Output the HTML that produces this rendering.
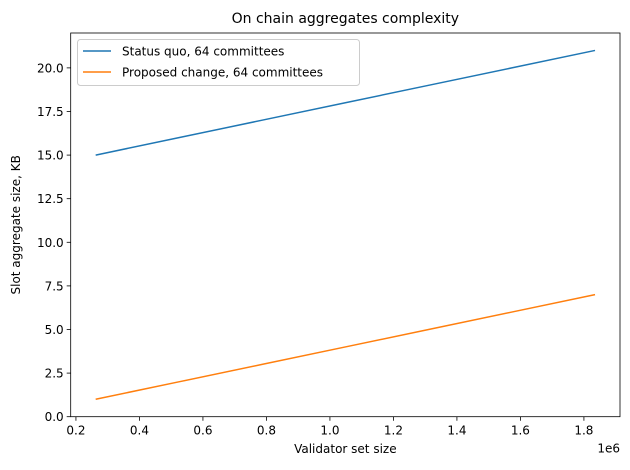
<!DOCTYPE html>
<html><head><meta charset="utf-8"><style>
html,body{margin:0;padding:0;background:#fff;}
svg{display:block;font-family:"DejaVu Sans","Liberation Sans",sans-serif;}
</style></head><body>
<svg id="chart" width="630" height="470" viewBox="0 0 630 470" xmlns="http://www.w3.org/2000/svg"></svg>
<script>
const validatorSizes = [262144, 524288, 786432, 1048576, 1310720, 1572864, 1835008];
const statusQuo = [15, 16, 17, 18, 19, 20, 21];
const proposed = [1, 2, 3, 4, 5, 6, 7];
const xTicks = [200000, 400000, 600000, 800000, 1000000, 1200000, 1400000, 1600000, 1800000];
const xTickLabels = ["0.2","0.4","0.6","0.8","1.0","1.2","1.4","1.6","1.8"];
const yTicks = [0, 2.5, 5, 7.5, 10, 12.5, 15, 17.5, 20];
const yTickLabels = ["0.0","2.5","5.0","7.5","10.0","12.5","15.0","17.5","20.0"];

const NS = "http://www.w3.org/2000/svg";
const svg = document.getElementById("chart");
const L = 70.7, R = 620, T = 33, B = 416.7;
const xs = validatorSizes;
const xmin0 = Math.min(...xs), xmax0 = Math.max(...xs), xm = (xmax0 - xmin0) * 0.05;
const xmin = xmin0 - xm, xmax = xmax0 + xm;
const allY = statusQuo.concat(proposed);
const ymin0 = Math.min(...allY), ymax0 = Math.max(...allY), ym = (ymax0 - ymin0) * 0.05;
const ymin = 0, ymax = ymax0 + ym;
const sx = v => L + (v - xmin) / (xmax - xmin) * (R - L);
const sy = v => B - (v - ymin) / (ymax - ymin) * (B - T);

function mk(tag, attrs, parent) {
  const e = document.createElementNS(NS, tag);
  for (const k in attrs) e.setAttribute(k, attrs[k]);
  (parent || svg).appendChild(e);
  return e;
}

const title = mk("text", {x: (L+R)/2, y: 23, "text-anchor": "middle", "font-size": 14, fill: "#000"});


title.textContent = "On chain aggregates complexity";

xTicks.forEach((t, i) => {
  const x = sx(t);
  const ln = mk("line", {x1: x, x2: x, y1: B, y2: B + 4, stroke: "#000", "stroke-width": 0.8});
  
  
  const tx = mk("text", {x: x, y: B + 18, "text-anchor": "middle", "font-size": 12, fill: "#000"});
  
  
  tx.textContent = xTickLabels[i];
});
yTicks.forEach((t, i) => {
  const y = sy(t);
  const ln = mk("line", {x1: L - 4, x2: L, y1: y, y2: y, stroke: "#000", "stroke-width": 0.8});
  
  
  const tx = mk("text", {x: L - 7, y: y + 4.5, "text-anchor": "end", "font-size": 12, fill: "#000"});
  
  
  tx.textContent = yTickLabels[i];
});

const offs = mk("text", {x: R, y: B + 36, "text-anchor": "end", "font-size": 12, fill: "#000"});


offs.textContent = "1e6";

const xl = mk("text", {x: (L+R)/2, y: 453, "text-anchor": "middle", "font-size": 12, fill: "#000"});


xl.textContent = "Validator set size";

const yl = mk("text", {x: 0, y: 0, "text-anchor": "middle", "font-size": 12, fill: "#000", transform: `translate(20,${(T+B)/2}) rotate(-90)`});


yl.textContent = "Slot aggregate size, KB";

function series(vals, color, name) {
  const d = vals.map((v, i) => (i ? "L" : "M") + sx(xs[i]).toFixed(2) + "," + sy(v).toFixed(2)).join(" ");
  const p = mk("path", {d: d, fill: "none", stroke: color, "stroke-width": 1.5});
  
  
}
series(statusQuo, "#1f77b4", "status-quo-line");
series(proposed, "#ff7f0e", "proposed-change-line");

const frame = mk("rect", {x: L, y: T, width: R - L, height: B - T, fill: "none", stroke: "#000", "stroke-width": 0.8});



const lg = mk("g", {});


mk("rect", {x: 77.5, y: 39.5, width: 282, height: 46, rx: 3, fill: "#fff", stroke: "#ccc", "stroke-width": 1}, lg);
const entries = [["Status quo, 64 committees", "#1f77b4"], ["Proposed change, 64 committees", "#ff7f0e"]];
entries.forEach((e, i) => {
  const y = 51 + i * 21;
  const g = mk("g", {}, lg);
  
  
  mk("line", {x1: 83, x2: 111, y1: y, y2: y, stroke: e[1], "stroke-width": 1.5}, g);
  const t = mk("text", {x: 122, y: y + 4.5, "font-size": 12, fill: "#000"}, g);
  t.textContent = e[0];
});
</script>
</body></html>
